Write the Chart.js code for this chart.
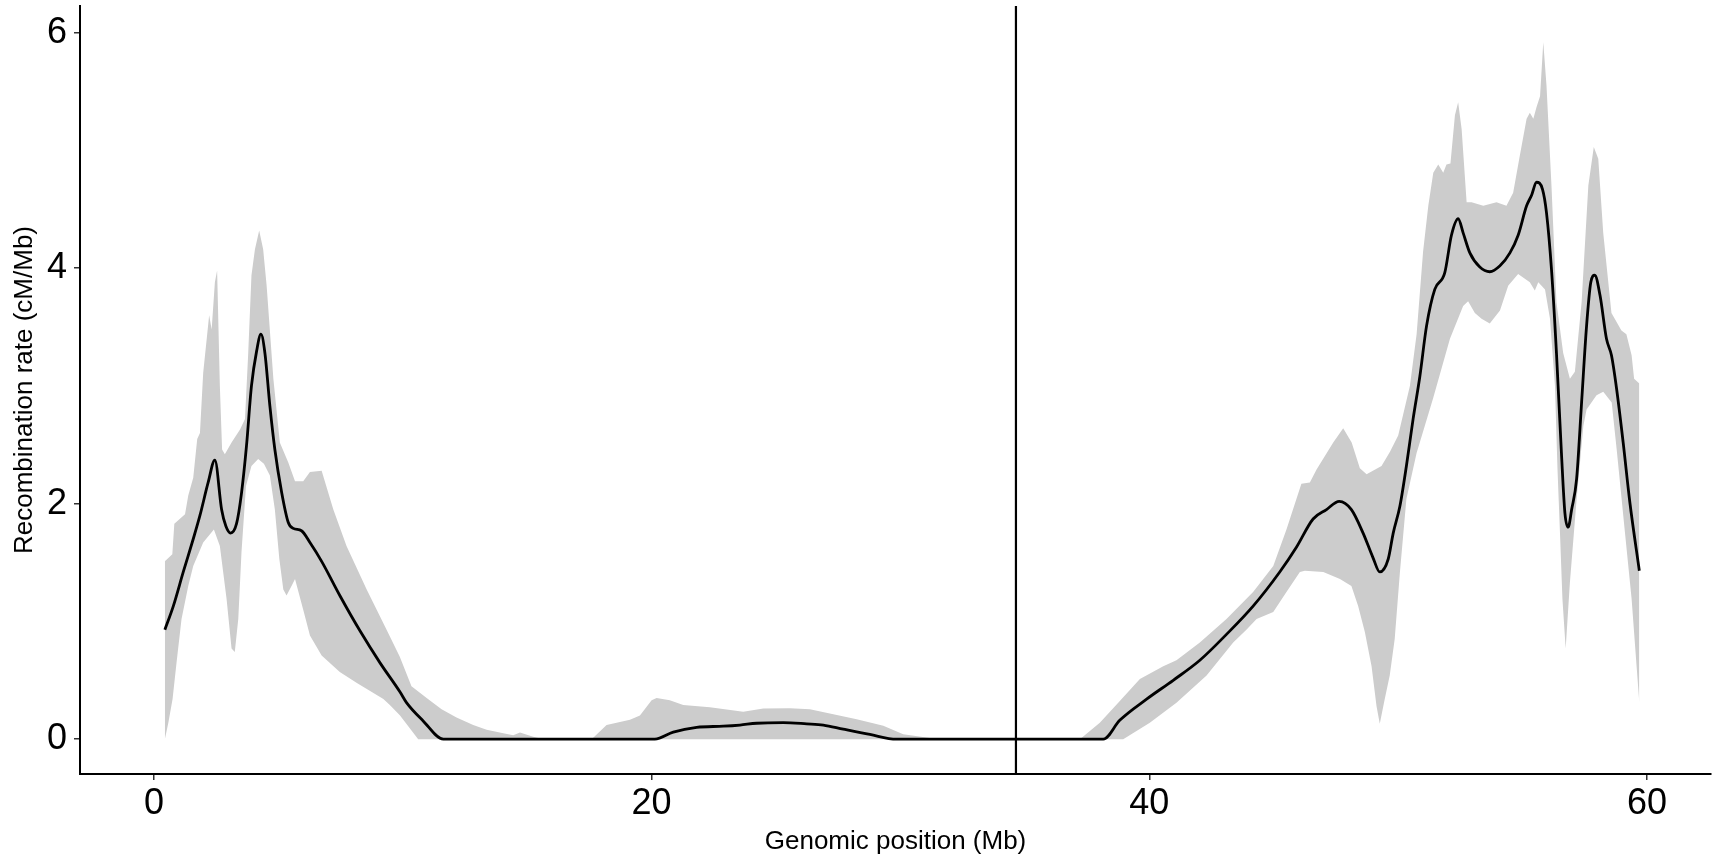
<!DOCTYPE html>
<html>
<head>
<meta charset="utf-8">
<script src="https://cdn.jsdelivr.net/npm/chart.js@4.4.1/dist/chart.umd.min.js"></script>
<style>
  body { margin: 0; background: #fff; }
  canvas { display: block; }
</style>
</head>
<body>
<canvas id="line-chart" width="1714" height="858"></canvas>
<script>
// smoothed recombination rate (black line)
var meanPos = [0.44, 0.78, 1.18, 1.58, 1.85, 2.18, 2.45, 2.72, 2.89, 3.08, 3.32, 3.52, 3.72, 3.92, 4.13, 4.30, 4.46, 4.66, 4.86, 5.13,
  5.40, 5.60, 5.93, 6.27, 6.74, 7.47, 8.28, 9.08, 9.89, 10.15, 10.82, 11.63, 20.13, 20.87, 21.81, 22.88, 23.55, 24.22, 25.29, 26.23,
  26.9, 27.7, 28.77, 29.84, 38.15, 38.81, 39.89, 40.96, 42.03, 43.10, 44.17, 45.24, 45.91, 46.58, 47.12, 47.63, 48.12, 48.59, 48.99, 49.26,
  49.60, 49.80, 50.07, 50.33, 50.60, 50.87, 51.14, 51.47, 51.87, 52.14, 52.41, 52.61, 52.88, 53.28, 53.68, 54.09, 54.49, 54.82, 55.16, 55.36,
  55.56, 55.80, 55.96, 56.16, 56.36, 56.56, 56.70, 56.83, 56.97, 57.17, 57.37, 57.57, 57.74, 57.90, 58.11, 58.37, 58.57, 58.78, 59.04, 59.31,
  59.69];
var meanRate = [0.93, 1.13, 1.42, 1.70, 1.90, 2.18, 2.37, 1.95, 1.81, 1.75, 1.83, 2.09, 2.49, 3.00, 3.30, 3.44, 3.28, 2.83, 2.46, 2.10,
  1.84, 1.79, 1.77, 1.67, 1.51, 1.22, 0.92, 0.65, 0.40, 0.31, 0.155, 0, 0, 0.06, 0.10, 0.11, 0.12, 0.135, 0.14, 0.13,
  0.12, 0.085, 0.04, 0, 0, 0.16, 0.34, 0.50, 0.67, 0.89, 1.13, 1.42, 1.63, 1.87, 1.95, 2.02, 1.95, 1.75, 1.54, 1.42,
  1.53, 1.75, 1.98, 2.32, 2.72, 3.08, 3.51, 3.82, 3.96, 4.28, 4.42, 4.30, 4.13, 4.01, 3.97, 4.02, 4.13, 4.28, 4.53, 4.62,
  4.73, 4.67, 4.47, 3.99, 3.28, 2.43, 1.92, 1.80, 1.95, 2.21, 2.86, 3.51, 3.88, 3.94, 3.77, 3.40, 3.26, 2.97, 2.52, 2.01,
  1.43];

// upper edge of the grey band
var upperPos = [0.44, 0.74, 0.82, 1.25, 1.38, 1.58, 1.74, 1.85, 1.98, 2.22, 2.32, 2.45, 2.54, 2.65, 2.74, 2.85, 3.12, 3.46, 3.66, 3.79,
  3.92, 4.06, 4.23, 4.39, 4.53, 4.80, 5.06, 5.40, 5.67, 6.00, 6.27, 6.74, 7.21, 7.74, 8.55, 9.35, 9.88, 10.35, 10.96, 11.56,
  12.16, 12.83, 13.37, 14.04, 14.44, 14.71, 15.24, 15.65, 17.59, 18.19, 19.13, 19.53, 20.0, 20.2, 20.73, 21.27, 22.34, 23.68, 24.49, 25.56,
  26.36, 27.3, 28.24, 29.31, 30.11, 31.18, 31.5, 37.21, 38.01, 38.75, 39.62, 40.56, 41.09, 42.03, 43.10, 44.17, 44.98, 45.51, 46.11, 46.45,
  46.72, 47.39, 47.79, 48.13, 48.46, 48.73, 49.33, 49.67, 50.0, 50.47, 50.74, 51.0, 51.21, 51.41, 51.61, 51.81, 51.94, 52.1, 52.28, 52.41,
  52.55, 52.75, 52.95, 53.42, 53.95, 54.35, 54.62, 54.89, 55.16, 55.29, 55.43, 55.56, 55.70, 55.83, 55.96, 56.16, 56.36, 56.63, 56.90, 57.10,
  57.37, 57.64, 57.86, 58.04, 58.24, 58.57, 58.97, 59.17, 59.38, 59.48, 59.69];
var upperRate = [1.51, 1.57, 1.83, 1.91, 2.07, 2.22, 2.55, 2.60, 3.11, 3.60, 3.48, 3.88, 3.98, 3.00, 2.46, 2.42, 2.52, 2.63, 2.72, 3.28,
  3.94, 4.16, 4.32, 4.16, 3.85, 3.06, 2.52, 2.35, 2.19, 2.19, 2.27, 2.28, 1.95, 1.64, 1.27, 0.93, 0.70, 0.45, 0.35, 0.255,
  0.184, 0.12, 0.08, 0.05, 0.034, 0.057, 0.02, 0, 0, 0.12, 0.164, 0.20, 0.33, 0.35, 0.33, 0.29, 0.27, 0.232, 0.26, 0.263,
  0.255, 0.212, 0.17, 0.113, 0.042, 0.01, 0, 0, 0.14, 0.31, 0.51, 0.62, 0.67, 0.82, 1.02, 1.25, 1.47, 1.78, 2.17, 2.18,
  2.29, 2.52, 2.64, 2.52, 2.30, 2.25, 2.32, 2.44, 2.58, 3.0, 3.44, 4.14, 4.53, 4.81, 4.88, 4.81, 4.88, 4.89, 5.30, 5.41,
  5.18, 4.56, 4.56, 4.53, 4.56, 4.53, 4.64, 4.96, 5.27, 5.32, 5.27, 5.37, 5.46, 5.92, 5.55, 4.70, 3.71, 3.28, 3.06, 3.12,
  3.71, 4.70, 5.03, 4.93, 4.30, 3.62, 3.47, 3.44, 3.26, 3.06, 3.02];

// lower edge of the grey band
var lowerPos = [0.44, 0.58, 0.75, 0.91, 1.11, 1.38, 1.58, 1.98, 2.41, 2.65, 2.92, 3.12, 3.25, 3.39, 3.52, 3.70, 3.92, 4.19, 4.42, 4.66,
  4.86, 5.04, 5.20, 5.33, 5.53, 5.67, 6.00, 6.27, 6.74, 7.47, 8.14, 9.22, 9.48, 9.89, 10.62, 38.95, 40.02, 41.09, 42.30, 43.37,
  43.90, 44.31, 44.98, 45.51, 46.05, 46.25, 46.99, 47.66, 48.12, 48.39, 48.66, 48.93, 49.13, 49.26, 49.46, 49.66, 49.86, 50.07, 50.33, 50.74,
  51.41, 52.08, 52.61, 52.81, 53.08, 53.35, 53.68, 54.09, 54.42, 54.82, 55.29, 55.49, 55.63, 55.90, 56.10, 56.30, 56.40, 56.50, 56.60, 56.73,
  56.90, 57.17, 57.44, 57.57, 57.97, 58.24, 58.58, 58.78, 59.11, 59.38, 59.58, 59.69];
var lowerRate = [0, 0.14, 0.34, 0.65, 1.02, 1.30, 1.47, 1.67, 1.78, 1.64, 1.19, 0.77, 0.74, 1.02, 1.59, 2.15, 2.32, 2.38, 2.34, 2.24,
  1.95, 1.53, 1.27, 1.22, 1.30, 1.36, 1.10, 0.88, 0.71, 0.57, 0.48, 0.34, 0.29, 0.20, 0, 0, 0.14, 0.31, 0.54, 0.82,
  0.93, 1.02, 1.08, 1.25, 1.42, 1.43, 1.42, 1.36, 1.30, 1.13, 0.91, 0.62, 0.28, 0.13, 0.34, 0.54, 0.85, 1.42, 2.04, 2.43,
  2.90, 3.40, 3.68, 3.72, 3.62, 3.57, 3.53, 3.64, 3.85, 3.95, 3.88, 3.81, 3.88, 3.82, 3.57, 3.0, 2.3, 1.76, 1.19, 0.77,
  1.33, 2.04, 2.66, 2.80, 2.92, 2.95, 2.86, 2.46, 1.76, 1.19, 0.62, 0.31];

// centromere position (vertical line)
var centromere = 34.64;

var xTicks = [0, 20, 40, 60];
var yTicks = [0, 2, 4, 6];
var xRange = [-2.97, 62.57];
var yRange = [-0.296, 6.227];

function pts(xs, ys) {
  var out = [];
  for (var i = 0; i < xs.length; i++) {
    out.push({x: xs[i], y: ys[i]});
  }
  return out;
}

var tickFont = {family: "'Liberation Sans', Arial, sans-serif", size: 36};
var titleFont = {family: "'Liberation Sans', Arial, sans-serif", size: 26};

new Chart(document.getElementById("line-chart"), {
  type: 'line',
  data: {
    datasets: [
      {label: 'rate', data: pts(meanPos, meanRate), borderColor: '#000', borderWidth: 2.8,
        pointRadius: 0, fill: false, cubicInterpolationMode: 'monotone'},
      {label: 'centromere', data: [{x: centromere, y: yRange[0]}, {x: centromere, y: yRange[1]}],
        borderColor: '#000', borderWidth: 2.2, pointRadius: 0, fill: false},
      {label: 'upper', data: pts(upperPos, upperRate), borderWidth: 0, borderColor: 'rgba(0,0,0,0)',
        backgroundColor: '#cccccc', pointRadius: 0, tension: 0, fill: '+1'},
      {label: 'lower', data: pts(lowerPos, lowerRate), borderWidth: 0, borderColor: 'rgba(0,0,0,0)',
        pointRadius: 0, tension: 0, fill: false}
    ]
  },
  options: {
    responsive: false,
    animation: false,
    devicePixelRatio: 1,
    layout: {padding: {top: 6, right: 3, left: 0, bottom: 0}},
    plugins: {legend: {display: false}, tooltip: {enabled: false}},
    scales: {
      x: {
        type: 'linear', min: xRange[0], max: xRange[1],
        afterBuildTicks: function (s) { s.ticks = xTicks.map(function (v) { return {value: v}; }); },
        afterFit: function (s) { s.height = 84; },
        grid: {drawOnChartArea: false, drawTicks: true, tickLength: 6, tickColor: '#333', lineWidth: 1.5},
        border: {display: true, color: '#000', width: 2},
        ticks: {font: tickFont, color: '#000', padding: 2, maxRotation: 0},
        title: {display: true, text: 'Genomic position (Mb)', font: titleFont, color: '#000', padding: {top: 0, bottom: 1}}
      },
      y: {
        type: 'linear', min: yRange[0], max: yRange[1],
        afterBuildTicks: function (s) { s.ticks = yTicks.map(function (v) { return {value: v}; }); },
        // fixed width, and no extra room for the top label (it sits inside the panel)
        afterFit: function (s) { s.width = 80; s.paddingTop = 0; s.paddingBottom = 0; },
        grid: {drawOnChartArea: false, drawTicks: true, tickLength: 6, tickColor: '#333', lineWidth: 1.5},
        border: {display: true, color: '#000', width: 2},
        ticks: {font: tickFont, color: '#000', padding: 7},
        title: {display: true, text: 'Recombination rate (cM/Mb)', font: titleFont, color: '#000', padding: {top: 9, bottom: 0}}
      }
    }
  }
});
</script>
</body>
</html>
